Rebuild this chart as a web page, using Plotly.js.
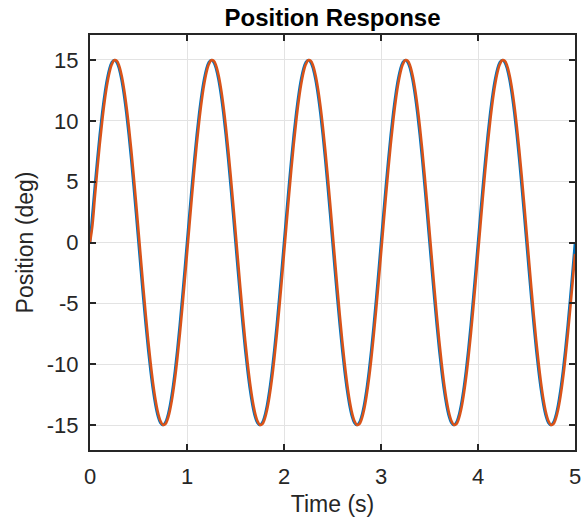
<!DOCTYPE html>
<html>
<head>
<meta charset="utf-8">
<script src="https://cdn.plot.ly/plotly-3.0.1.min.js"></script>
<style>html,body{margin:0;padding:0;background:#fff;}#chart{width:584px;height:520px;}</style>
</head>
<body>
<div id="chart"></div>
<script>
// time samples (s), every 0.025 s from 0 to 5
const timeSec = [];
for (let k = 0; k <= 200; k++) timeSec.push(+(k * 0.025).toFixed(3));

// reference position (deg): one period of readings, repeated for the 5 periods shown
const refPeriod = [0, 2.346, 4.635, 6.810, 8.817, 10.607, 12.135, 13.365, 14.266, 14.815,
                   15, 14.815, 14.266, 13.365, 12.135, 10.607, 8.817, 6.810, 4.635, 2.346,
                   0, -2.346, -4.635, -6.810, -8.817, -10.607, -12.135, -13.365, -14.266, -14.815,
                   -15, -14.815, -14.266, -13.365, -12.135, -10.607, -8.817, -6.810, -4.635, -2.346];
// measured response (deg): slightly lagging the reference
const respPeriod = [-0.942, 1.412, 3.730, 5.957, 8.037, 9.920, 11.558, 12.911, 13.947, 14.639,
                    14.970, 14.933, 14.529, 13.766, 12.665, 11.252, 9.561, 7.636, 5.522, 3.272,
                    0.942, -1.412, -3.730, -5.957, -8.037, -9.920, -11.558, -12.911, -13.947, -14.639,
                    -14.970, -14.933, -14.529, -13.766, -12.665, -11.252, -9.561, -7.636, -5.522, -3.272];

const refPos = [];
const respPos = [];
for (let p = 0; p < 5; p++) { refPos.push(...refPeriod); respPos.push(...respPeriod); }
refPos.push(0);
respPos.push(-0.942);
respPos[0] = 0;

const xTicks = [0, 1, 2, 3, 4, 5];
const yTicks = [-15, -10, -5, 0, 5, 10, 15];

const tickFont = {family: 'Liberation Sans, Arial, sans-serif', size: 22, color: '#262626'};
const labelFont = {family: 'Liberation Sans, Arial, sans-serif', size: 23, color: '#262626'};

const traces = [
  {x: timeSec, y: refPos, type: 'scatter', mode: 'lines',
   line: {color: '#0072BD', width: 2.6, shape: 'spline', smoothing: 1}, hoverinfo: 'skip'},
  {x: timeSec, y: respPos, type: 'scatter', mode: 'lines',
   line: {color: '#D95319', width: 2.6, shape: 'spline', smoothing: 1}, hoverinfo: 'skip'}
];

const axisCommon = {
  showline: true, linecolor: '#262626', linewidth: 2, mirror: 'ticks',
  ticks: 'inside', ticklen: 6, tickwidth: 2, tickcolor: '#262626',
  showgrid: true, gridcolor: '#e3e3e3', gridwidth: 1, zeroline: false,
  tickfont: tickFont
};

const layout = {
  width: 584, height: 520,
  margin: {l: 90, r: 9, t: 35, b: 70},
  paper_bgcolor: '#fff', plot_bgcolor: '#fff',
  showlegend: false,
  font: tickFont,
  title: {text: '<b>Position Response</b>', x: 0.5, xref: 'paper', xanchor: 'center',
          y: 1, yref: 'container', yanchor: 'top', pad: {t: 9},
          font: {family: 'Liberation Sans, Arial, sans-serif', size: 24, color: '#000'}},
  xaxis: Object.assign({}, axisCommon, {
    range: [0, 5], tickvals: xTicks, ticktext: xTicks.map(String), ticklabelstandoff: 6,
    title: {text: 'Time (s)', font: labelFont, standoff: 7}
  }),
  yaxis: Object.assign({}, axisCommon, {
    range: [-17.05, 17.05], tickvals: yTicks, ticktext: yTicks.map(String), ticklabelstandoff: 5,
    title: {text: 'Position (deg)', font: labelFont, standoff: 7}
  })
};

Plotly.newPlot('chart', traces, layout, {displayModeBar: false, staticPlot: true});
</script>
</body>
</html>
